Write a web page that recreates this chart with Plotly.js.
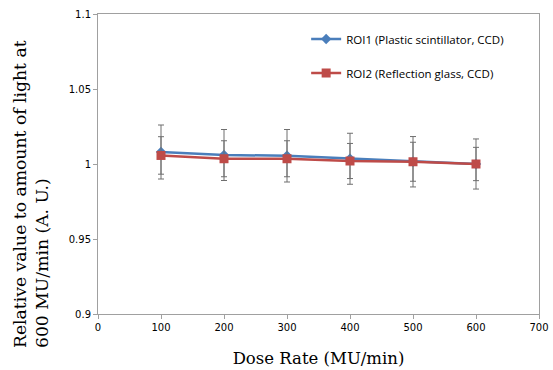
<!DOCTYPE html>
<html>
<head>
<meta charset="utf-8">
<script src="https://cdn.plot.ly/plotly-3.0.1.min.js"></script>
<style>html,body{margin:0;padding:0;background:#fff}#chart{width:553px;height:370px}</style>
</head>
<body>
<div id="chart"></div>
<script>
const doseRate = [100, 200, 300, 400, 500, 600];
const roi1 = [1.008, 1.006, 1.0055, 1.0035, 1.0015, 1.0];
const roi1Err = [0.018, 0.017, 0.0175, 0.017, 0.0168, 0.0167];
const roi2 = [1.0057, 1.0035, 1.0035, 1.002, 1.0015, 1.0];
const roi2Err = [0.0125, 0.012, 0.012, 0.0117, 0.013, 0.0111];
const xTicks = [0, 100, 200, 300, 400, 500, 600, 700];
const yTicks = [0.9, 0.95, 1, 1.05, 1.1];
const yTitle = 'Relative value to amount of light at<br>600 MU/min (A. U.)';
const xTitle = 'Dose Rate (MU/min)';

const errStyle = {type: 'data', visible: true, color: '#6f6f6f', thickness: 1, width: 3};

const traces = [
  {
    x: doseRate, y: roi1, name: 'ROI1 (Plastic scintillator, CCD)', legendgroup: 'a',
    mode: 'lines+markers', type: 'scatter',
    line: {color: '#4a7ebb', width: 2.5},
    marker: {symbol: 'diamond', size: 8, color: '#4a7ebb'},
    error_y: Object.assign({array: roi1Err}, errStyle)
  },
  {
    x: doseRate, y: roi2, name: 'ROI2 (Reflection glass, CCD)', legendgroup: 'b',
    mode: 'lines+markers', type: 'scatter',
    line: {color: '#be4b48', width: 2.5},
    marker: {symbol: 'square', size: 9, color: '#be4b48'},
    error_y: Object.assign({array: roi2Err}, errStyle)
  }
];

const layout = {
  width: 553, height: 370,
  margin: {l: 98, r: 14, t: 14, b: 56},
  paper_bgcolor: '#fff', plot_bgcolor: '#fff',
  showlegend: true,
  legend: {
    x: 0.472, y: 0.965, xanchor: 'left', yanchor: 'top',
    font: {family: 'Open Sans, sans-serif', size: 11.5, color: '#000'},
    bgcolor: 'rgba(0,0,0,0)', tracegroupgap: 15, itemwidth: 30, traceorder: 'grouped'
  },
  xaxis: {
    range: [0, 700], tickvals: xTicks, ticktext: xTicks.map(String),
    showgrid: false, zeroline: false,
    showline: true, linecolor: '#a0a0a0', linewidth: 1, mirror: true,
    ticks: 'outside', ticklen: 4, tickcolor: '#a0a0a0',
    tickfont: {family: 'DejaVu Sans, sans-serif', size: 10, color: '#000'},
    title: {text: xTitle, font: {family: 'DejaVu Serif, serif', size: 16.5, color: '#000'}, standoff: 20}
  },
  yaxis: {
    range: [0.9, 1.1], tickvals: yTicks, ticktext: ['0.9', '0.95', '1', '1.05', '1.1'],
    showgrid: false, zeroline: false,
    showline: true, linecolor: '#a0a0a0', linewidth: 1, mirror: true,
    ticks: 'outside', ticklen: 4, tickcolor: '#a0a0a0',
    tickfont: {family: 'DejaVu Sans, sans-serif', size: 10, color: '#000'}
  },
  annotations: [{
    text: yTitle, xref: 'paper', yref: 'paper',
    x: -90 / 441, xanchor: 'left', y: (314 - 350) / 300, yanchor: 'bottom',
    textangle: -90, align: 'left', showarrow: false,
    font: {family: 'DejaVu Serif, serif', size: 17.2, color: '#000'}
  }]
};

Plotly.newPlot('chart', traces, layout, {displayModeBar: false, staticPlot: true});
</script>
</body>
</html>
